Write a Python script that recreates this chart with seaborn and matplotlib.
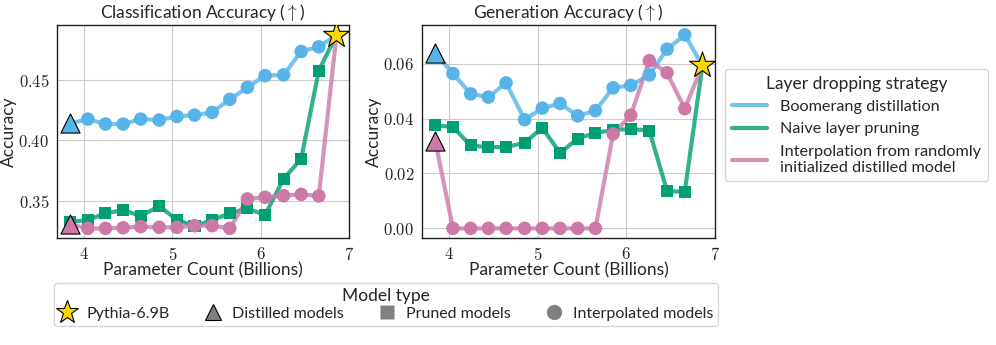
import matplotlib
matplotlib.use("Agg")
import matplotlib.pyplot as plt
import pandas as pd
import seaborn as sns
from matplotlib.lines import Line2D
from matplotlib.ticker import FuncFormatter

# parameter count (billions), from the 15-layer-dropped model up to the full Pythia-6.9B
params = [3.84, 4.04, 4.24, 4.44, 4.64, 4.85, 5.05, 5.25, 5.45, 5.65, 5.85, 6.05, 6.26, 6.46, 6.66, 6.86]

# classification accuracy
boomerang_cls = [0.4138, 0.4174, 0.4133, 0.4133, 0.4174, 0.4166, 0.4196, 0.4207, 0.4229, 0.4337,
                 0.4436, 0.4533, 0.4539, 0.4733, 0.4771, 0.4870]
pruning_cls = [0.3326, 0.3340, 0.3395, 0.3423, 0.3373, 0.3456, 0.3340, 0.3290, 0.3340, 0.3395,
               0.3436, 0.3381, 0.3680, 0.3845, 0.4575, 0.4870]
interp_cls = [0.3304, 0.3271, 0.3271, 0.3276, 0.3285, 0.3280, 0.3280, 0.3293, 0.3293, 0.3271,
              0.3514, 0.3528, 0.3541, 0.3552, 0.3539, 0.4870]

# generation accuracy
boomerang_gen = [0.0639, 0.0564, 0.0490, 0.0478, 0.0530, 0.0396, 0.0438, 0.0455, 0.0410, 0.0429,
                 0.0512, 0.0521, 0.0559, 0.0653, 0.0705, 0.0594]
pruning_gen = [0.0376, 0.0369, 0.0302, 0.0296, 0.0296, 0.0312, 0.0366, 0.0275, 0.0327, 0.0348,
               0.0358, 0.0362, 0.0356, 0.0136, 0.0133, 0.0594]
interp_gen = [0.0318, 0.0, 0.0, 0.0, 0.0, 0.0, 0.0, 0.0, 0.0, 0.0,
              0.0344, 0.0412, 0.0611, 0.0567, 0.0436, 0.0594]

strategies = ["Boomerang distillation", "Naive layer pruning",
              "Interpolation from randomly\ninitialized distilled model"]
colors = ["#56B4E9", "#009E73", "#CC79A7"]
model_types = ["Pythia-6.9B", "Distilled models", "Pruned models", "Interpolated models"]

sns.set_style("whitegrid")
plt.rcParams["font.family"] = ["Lato", "DejaVu Sans"]
plt.rcParams["mathtext.fontset"] = "cm"

fig = plt.figure(figsize=(9.96, 3.45), dpi=100)
ax1 = fig.add_axes([0.0572, 0.310, 0.293, 0.617])
ax2 = fig.add_axes([0.4237, 0.310, 0.294, 0.617])


def draw(ax, series, title, fmt):
    for (vals, kind), col in zip(series, colors):
        df = pd.DataFrame({"x": params, "y": vals})
        sns.lineplot(data=df, x="x", y="y", ax=ax, color=col, lw=3, alpha=0.8, zorder=2)
        mid = df.iloc[1:-1]
        if kind == "square":
            sns.scatterplot(data=df.iloc[:-1], x="x", y="y", ax=ax, color=col, marker="s",
                            s=75, edgecolor="none", zorder=3)
        else:
            sns.scatterplot(data=mid, x="x", y="y", ax=ax, color=col, marker="o",
                            s=95, edgecolor="none", zorder=3)
            sns.scatterplot(data=df.iloc[:1], x="x", y="y", ax=ax, color=col, marker="^",
                            s=190, edgecolor="black", linewidth=0.8, zorder=5)
    star = pd.DataFrame({"x": params[-1:], "y": series[0][0][-1:]})
    sns.scatterplot(data=star, x="x", y="y", ax=ax, color="#FFD700", marker="*",
                    s=380, edgecolor="black", linewidth=0.8, zorder=6)
    ax.set_title(title + r" ($\uparrow$)", fontsize=12.5, pad=5)
    ax.set_xlabel("Parameter Count (Billions)", fontsize=12.5, labelpad=0)
    ax.set_ylabel("Accuracy", fontsize=12.5, labelpad=1)
    ax.set_xticks([4, 5, 6, 7])
    ax.xaxis.set_major_formatter(FuncFormatter(lambda v, p: r"$%d$" % v))
    ax.yaxis.set_major_formatter(FuncFormatter(lambda v, p: fmt % v))
    ax.tick_params(labelsize=12, pad=2)
    ax.grid(color="#cccccc", lw=0.8)
    for sp in ax.spines.values():
        sp.set_color("#222222")
        sp.set_linewidth(1.0)


draw(ax1, [(boomerang_cls, "circle"), (pruning_cls, "square"), (interp_cls, "circle")],
     "Classification Accuracy", r"$%.2f$")
ax1.set_xlim(3.69, 7.0)
ax1.set_yticks([0.35, 0.40, 0.45])

draw(ax2, [(boomerang_gen, "circle"), (pruning_gen, "square"), (interp_gen, "circle")],
     "Generation Accuracy", r"$%.2f$")
ax2.set_xlim(3.69, 7.0)
ax2.set_yticks([0.0, 0.02, 0.04, 0.06])

h1 = [Line2D([], [], color=c, lw=3, alpha=0.8) for c in colors]
fig.legend(h1, strategies, title="Layer dropping strategy", loc="upper left",
           bbox_to_anchor=(0.728, 0.80), fontsize=11.7, title_fontsize=12.5,
           frameon=True, handlelength=2.2, labelspacing=0.5, borderaxespad=0)

h2 = [Line2D([], [], ls="none", marker="*", ms=17, mfc="#FFD700", mec="black", mew=0.8),
      Line2D([], [], ls="none", marker="^", ms=12, mfc="#808080", mec="black", mew=0.8),
      Line2D([], [], ls="none", marker="s", ms=10, mfc="#808080", mec="none"),
      Line2D([], [], ls="none", marker="o", ms=11, mfc="#808080", mec="none")]
fig.legend(h2, model_types, title="Model type", loc="upper center", ncol=4,
           bbox_to_anchor=(0.3877, 0.18), fontsize=11.5, title_fontsize=12.5,
           frameon=True, handlelength=1.0, handletextpad=0.7, columnspacing=2.2,
           borderaxespad=0, borderpad=0.3, labelspacing=0.2)

fig.savefig("out.png", dpi=100)
